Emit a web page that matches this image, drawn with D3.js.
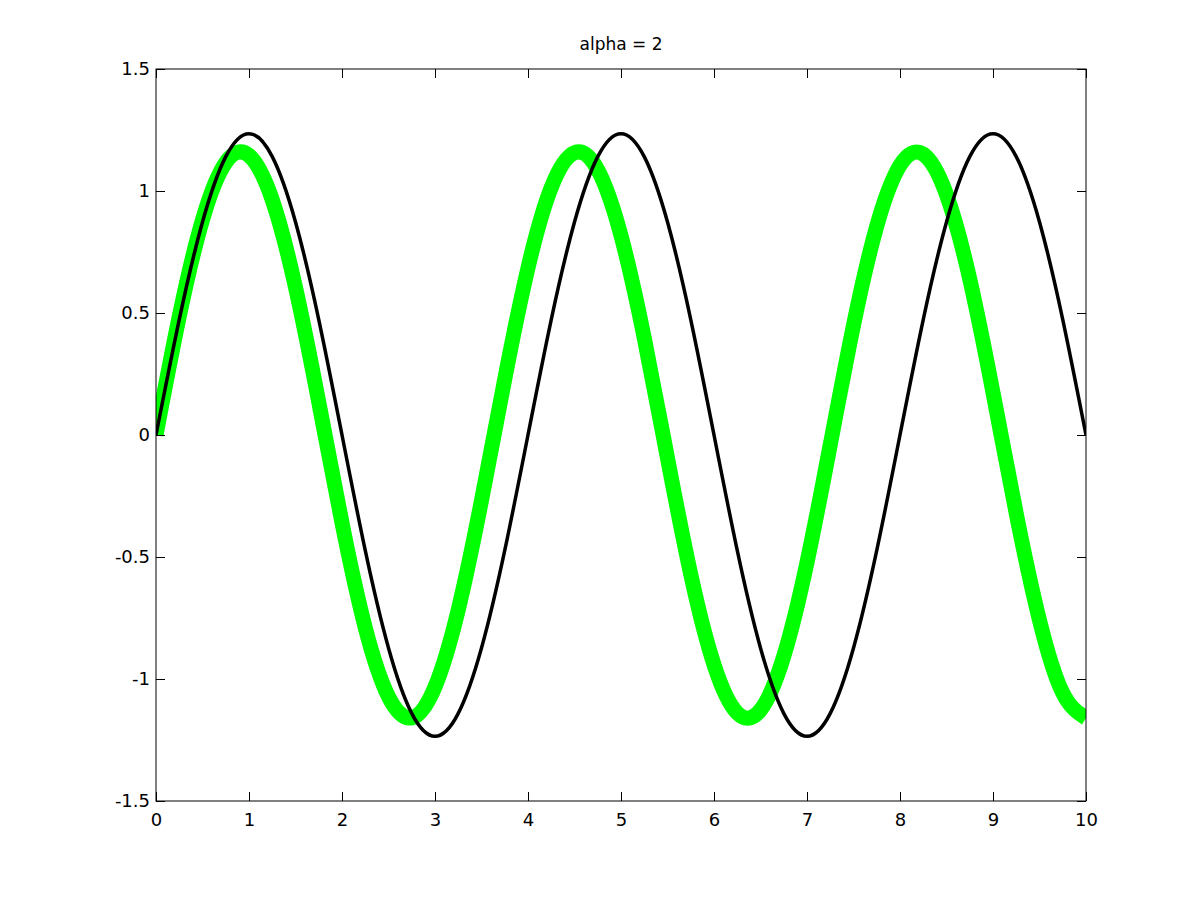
<!DOCTYPE html>
<html><head><meta charset="utf-8">
<script src="https://cdn.jsdelivr.net/npm/d3@7/dist/d3.min.js"></script>
<style>body{margin:0;background:#fff}svg{display:block}</style>
</head><body>
<script>
const titleText = "alpha = 2";
const xs = [0,0.25,0.5,0.75,1,1.25,1.5,1.75,2,2.25,2.5,2.75,3,3.25,3.5,3.75,4,4.25,4.5,4.75,5,5.25,5.5,5.75,6,6.25,6.5,6.75,7,7.25,7.5,7.75,8,8.25,8.5,8.75,9,9.25,9.5,9.75,10];
const blackY = [0,0.473,0.873,1.141,1.235,1.141,0.873,0.473,0,-0.473,-0.873,-1.141,-1.235,-1.141,-0.873,-0.473,0,0.473,0.873,1.141,1.235,1.141,0.873,0.473,0,-0.473,-0.873,-1.141,-1.235,-1.141,-0.873,-0.473,0,0.473,0.873,1.141,1.235,1.141,0.873,0.473,0];
const greenY = [0,0.486,0.882,1.117,1.146,0.964,0.605,0.135,-0.360,-0.789,-1.072,-1.159,-1.032,-0.716,-0.268,0.229,0.685,1.014,1.157,1.087,0.817,0.398,-0.095,-0.571,-0.941,-1.139,-1.127,-0.907,-0.522,-0.040,0.450,0.856,1.105,1.151,0.985,0.639,0.174,-0.322,-0.759,-1.057,-1.160];
const xTicks = [0,1,2,3,4,5,6,7,8,9,10];
const yTicks = [-1.5,-1,-0.5,0,0.5,1,1.5];
const yTickLabels = ["-1.5","-1","-0.5","0","0.5","1","1.5"];

const W=1200,H=900, L=156,R=1086,T=69,B=801;
const svg=d3.select("body").append("svg").attr("width",W).attr("height",H);
const x=d3.scaleLinear().domain([0,10]).range([L,R]);
const y=d3.scaleLinear().domain([-1.5,1.5]).range([B,T]);
const font="'DejaVu Sans', 'Liberation Sans', Arial, sans-serif";

const defs=svg.append("defs");
defs.append("clipPath").attr("id","clip").append("rect").attr("x",L).attr("y",T-20).attr("width",R-L).attr("height",B-T+40);
const line=d3.line().x((d,i)=>x(xs[i])).y(d=>y(d)).curve(d3.curveNatural);
const plot=svg.append("g").attr("clip-path","url(#clip)");
plot.append("path").datum(greenY).attr("d",line).attr("fill","none").attr("stroke","#00ff00").attr("stroke-width",15);
plot.append("path").datum(blackY).attr("d",line).attr("fill","none").attr("stroke","#000").attr("stroke-width",3.5);

const tl=9;
const gx=svg.append("g").attr("transform",`translate(0,${B})`).call(d3.axisBottom(x).tickValues(xTicks).tickSize(-tl).tickPadding(12).tickFormat(d3.format("d")));
const gxt=svg.append("g").attr("transform",`translate(0,${T})`).call(d3.axisTop(x).tickValues(xTicks).tickSize(-tl).tickFormat(""));
const gy=svg.append("g").attr("transform",`translate(${L},0)`).call(d3.axisLeft(y).tickValues(yTicks).tickSize(-tl).tickPadding(6).tickFormat((d,i)=>yTickLabels[i]));
const gyr=svg.append("g").attr("transform",`translate(${R},0)`).call(d3.axisRight(y).tickValues(yTicks).tickSize(-tl).tickFormat(""));
[gx,gxt,gy,gyr].forEach(g=>{g.select(".domain").remove();g.selectAll("line").attr("stroke","#000");g.selectAll("text").attr("font-family",font).attr("font-size",18).attr("fill","#000");});
svg.append("rect").attr("x",L).attr("y",T).attr("width",R-L).attr("height",B-T).attr("fill","none").attr("stroke","#000").attr("stroke-width",1);
svg.append("text").attr("x",(L+R)/2).attr("y",50).attr("text-anchor","middle").attr("font-family",font).attr("font-size",17).text(titleText);
</script>
</body></html>
